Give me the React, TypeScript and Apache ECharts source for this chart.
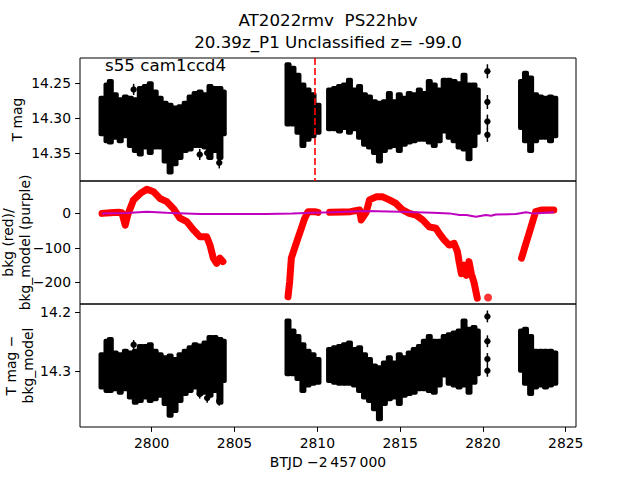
import React, { useEffect, useRef } from "react";
import * as echarts from "echarts";

// ---- Envelope samples of the dense photometry band (time, top/bottom of band) ----
const envT = [
  2797.0, 2797.3, 2797.5, 2797.8, 2798.1, 2798.41, 2798.71, 2799.01, 2799.31, 2799.61, 2799.91, 2800.21, 2800.51,
  2800.81, 2801.11, 2801.41, 2801.71, 2802.02, 2802.32, 2802.62, 2802.92, 2803.22, 2803.52, 2803.82, 2804.12, 2804.32,
  2808.23, 2808.53, 2808.83, 2809.13, 2809.44, 2809.74, 2810.04,
  2810.74, 2811.04, 2811.34, 2811.64, 2811.94, 2812.24, 2812.55, 2812.85, 2813.15, 2813.45, 2813.75, 2814.05, 2814.35,
  2814.65, 2814.95, 2815.25, 2815.55, 2815.85, 2816.16, 2816.46, 2816.76, 2817.06, 2817.36, 2817.66, 2817.96, 2818.26,
  2818.56, 2818.86, 2819.16, 2819.46, 2819.66,
  2822.33, 2822.57, 2822.88, 2823.18, 2823.48, 2823.78, 2824.08, 2824.34,
];
const tmagTop = [
  14.271, 14.252, 14.247, 14.266, 14.273, 14.269, 14.271, 14.273, 14.257, 14.254, 14.25, 14.262, 14.271,
  14.278, 14.281, 14.285, 14.283, 14.278, 14.269, 14.264, 14.262, 14.266, 14.254, 14.257, 14.257, 14.262,
  14.223, 14.228, 14.238, 14.252, 14.259, 14.266, 14.281,
  14.259, 14.257, 14.254, 14.252, 14.245, 14.259, 14.254, 14.266, 14.269, 14.276, 14.278, 14.276, 14.264,
  14.276, 14.266, 14.271, 14.264, 14.266, 14.259, 14.264, 14.247, 14.252, 14.259, 14.245, 14.245, 14.247,
  14.25, 14.238, 14.252, 14.252, 14.259,
  14.247, 14.235, 14.242, 14.266, 14.269, 14.271, 14.269, 14.271,
];
const tmagBot = [
  14.323, 14.333, 14.335, 14.328, 14.333, 14.326, 14.34, 14.347, 14.352, 14.342, 14.35, 14.342, 14.342,
  14.362, 14.378, 14.366, 14.357, 14.347, 14.345, 14.34, 14.34, 14.342, 14.357, 14.347, 14.357, 14.323,
  14.309, 14.309, 14.321, 14.34, 14.331, 14.326, 14.321,
  14.316, 14.316, 14.319, 14.314, 14.321, 14.316, 14.328, 14.338, 14.342, 14.35, 14.362, 14.347, 14.342,
  14.34, 14.347, 14.338, 14.335, 14.333, 14.331, 14.331, 14.335, 14.34, 14.333, 14.319, 14.328, 14.333,
  14.342, 14.345, 14.359, 14.34, 14.321,
  14.314, 14.333, 14.347, 14.333, 14.328, 14.328, 14.333, 14.326,
];
const diffTop = [
  14.271, 14.248, 14.245, 14.268, 14.271, 14.265, 14.268, 14.265, 14.257, 14.257, 14.254, 14.265, 14.271,
  14.276, 14.273, 14.279, 14.271, 14.265, 14.259, 14.254, 14.256, 14.251, 14.242, 14.242, 14.245, 14.248,
  14.214, 14.231, 14.24, 14.254, 14.265, 14.271, 14.279,
  14.262, 14.259, 14.257, 14.254, 14.251, 14.262, 14.259, 14.271, 14.279, 14.29, 14.293, 14.285, 14.276,
  14.285, 14.271, 14.276, 14.268, 14.262, 14.257, 14.248, 14.24, 14.248, 14.248, 14.24, 14.237, 14.234,
  14.231, 14.214, 14.228, 14.225, 14.231,
  14.231, 14.228, 14.24, 14.265, 14.265, 14.265, 14.265, 14.268,
];
const diffBot = [
  14.327, 14.333, 14.333, 14.33, 14.336, 14.33, 14.344, 14.353, 14.35, 14.344, 14.35, 14.347, 14.341,
  14.355, 14.375, 14.367, 14.35, 14.338, 14.333, 14.327, 14.338, 14.336, 14.341, 14.333, 14.353, 14.316,
  14.305, 14.305, 14.313, 14.333, 14.324, 14.321, 14.319,
  14.316, 14.319, 14.321, 14.321, 14.321, 14.324, 14.333, 14.344, 14.35, 14.364, 14.381, 14.355, 14.347,
  14.344, 14.355, 14.341, 14.338, 14.336, 14.33, 14.33, 14.333, 14.336, 14.324, 14.307, 14.321, 14.324,
  14.327, 14.324, 14.336, 14.319, 14.305,
  14.299, 14.321, 14.338, 14.327, 14.324, 14.327, 14.324, 14.321,
];

// ---- Individual points with error bars ----
const ptT = [2798.91, 2802.9, 2803.35, 2804.08, 2820.27, 2820.27, 2820.27, 2820.27];
const ptTmag = [14.259, 14.352, 14.35, 14.364, 14.233, 14.277, 14.305, 14.324];
const ptDiff = [14.255, 14.338, 14.345, 14.35, 14.207, 14.249, 14.279, 14.299];
const ptErr = [0.008, 0.008, 0.008, 0.008, 0.01, 0.01, 0.01, 0.01];

// ---- Background (red), null = gap ----
const bkgT = [
  2797.0, 2797.5, 2798.0, 2798.2, 2798.4, 2798.55, 2798.7, 2798.9, 2799.31, 2799.71, 2800.11, 2800.51, 2800.91,
  2801.31, 2801.71, 2802.12, 2802.52, 2802.92, 2803.32, 2803.52, 2803.72, 2803.92, 2804.12, 2804.3, 2806.0,
  2808.23, 2808.33, 2808.43, 2808.63, 2808.83, 2809.04, 2809.24, 2809.44, 2809.84, 2810.04, 2810.4,
  2810.74, 2811.5, 2812.0, 2812.55, 2812.65, 2812.95, 2813.15, 2813.55, 2813.95, 2814.35, 2814.75, 2815.15,
  2815.55, 2815.96, 2816.36, 2816.76, 2817.16, 2817.36, 2817.66, 2817.96, 2818.26, 2818.46, 2818.56, 2818.7,
  2818.86, 2819.0, 2819.16, 2819.3, 2819.46, 2819.66, 2821.0,
  2822.33, 2822.57, 2822.88, 2823.18, 2823.58, 2824.28,
];
const bkgV = [
  0, 2, 3, 2, -34, -5, 14, 39, 58, 70, 63, 43, 34,
  14, -14, -24, -48, -68, -68, -92, -130, -145, -130, -140, null,
  -242, -198, -130, -101, -72, -43, -14, 5, 5, 3, null,
  3, 4, 5, 10, -19, 3, 39, 48, 48, 39, 29, 10,
  0, -5, -19, -39, -43, -58, -77, -92, -87, -111, -140, -175,
  -150, -180, -140, -175, -200, -246, null,
  -130, -92, -43, 5, 10, 10,
];
const bkgIsoT = [2820.31];
const bkgIsoV = [-244];

// ---- Background model (purple) ----
const modelT = [
  2797.0, 2798.5, 2799.7, 2800.9, 2802.9, 2804.9, 2806.9, 2808.5, 2809.7, 2810.9, 2812.96, 2814.97, 2816.97,
  2817.98, 2818.58, 2819.0, 2819.58, 2820.18, 2820.5, 2820.78, 2822.0, 2822.6, 2823.0, 2824.3,
];
const modelV = [0, 1, 5, 2, -2, -2, -2, 0, 2, 3, 7, 5, 2, 0, -5, -5, -10, -5, -7, -3, -2, 3, 0, 3];

const xTicks = [2800, 2805, 2810, 2815, 2820, 2825];
const y1Ticks = [14.25, 14.3, 14.35];
const y2Ticks = [-200, -100, 0];
const y3Ticks = [14.2, 14.3];
const eventT = 2809.84;

const FONT = "DejaVu Sans";
const minus = (v: number) => (v < 0 ? "\u2212" + Math.abs(v) : String(v));

export default function App() {
  const ref = useRef<HTMLDivElement>(null);
  useEffect(() => {
    document.body.style.margin = "0";
    const chart = echarts.init(ref.current!, null, { renderer: "svg" });

    const envRender = (_p: any, api: any) => {
      const t = api.value(0);
      const a = api.coord([t, api.value(1)]);
      const b = api.coord([t, api.value(2)]);
      const y0 = Math.min(a[1], b[1]) - 2;
      const h = Math.abs(b[1] - a[1]) + 4;
      return { type: "rect", shape: { x: a[0] - 3.5, y: y0, width: 7, height: h, r: 2 }, style: { fill: "#000" } };
    };
    const ptRender = (_p: any, api: any) => {
      const t = api.value(0);
      const v = api.value(1);
      const e = api.value(2);
      const c = api.coord([t, v]);
      const a = api.coord([t, v - e]);
      const b = api.coord([t, v + e]);
      return {
        type: "group",
        children: [
          { type: "line", shape: { x1: c[0], y1: a[1], x2: c[0], y2: b[1] }, style: { stroke: "#000", lineWidth: 1.5 } },
          { type: "circle", shape: { cx: c[0], cy: c[1], r: 3.2 }, style: { fill: "#000" } },
        ],
      };
    };

    const axisText = { color: "#000", fontFamily: FONT, fontSize: 13.9 };
    const mkX = (idx: number, showLabel: boolean) => ({
      type: "value",
      gridIndex: idx,
      min: 2795.67,
      max: 2825.62,
      axisLine: { show: false },
      splitLine: { show: false },
      axisTick: { show: showLabel, customValues: xTicks, length: 4.9, lineStyle: { color: "#000", width: 1 } },
      axisLabel: { show: showLabel, customValues: xTicks, margin: 9, formatter: (v: number) => String(v), ...axisText },
      name: showLabel ? "BTJD \u22122\u2009457\u2009000" : "",
      nameLocation: "middle",
      nameGap: 28,
      nameTextStyle: { ...axisText },
    });
    const mkY = (idx: number, opts: any) => ({
      type: "value",
      gridIndex: idx,
      axisLine: { show: false },
      splitLine: { show: false },
      ...opts,
      axisTick: { show: true, customValues: opts.ticks, length: 4.9, lineStyle: { color: "#000", width: 1 } },
      axisLabel: { customValues: opts.ticks, margin: 9, formatter: opts.fmt, ...axisText },
    });
    const yName = (text: string, x: number, y: number) => ({
      type: "text", x, y, rotation: Math.PI / 2,
      style: { text, textAlign: "center", textVerticalAlign: "middle", font: `13.9px '${FONT}'`, lineHeight: 17, fill: "#000" },
    });

    const envData1 = envT.map((t, i) => [t, tmagTop[i], tmagBot[i]]);
    const envData3 = envT.map((t, i) => [t, diffTop[i], diffBot[i]]);
    const ptData1 = ptT.map((t, i) => [t, ptTmag[i], ptErr[i]]);
    const ptData3 = ptT.map((t, i) => [t, ptDiff[i], ptErr[i]]);
    const bkgData = bkgT.map((t, i) => [t, bkgV[i] === null ? "-" : bkgV[i]]);

    const gridBase = { left: 80, width: 496, height: 123, show: true, borderColor: "#000", borderWidth: 1, containLabel: false, outerBoundsMode: "none" };

    chart.setOption({
      animation: false,
      grid: [
        { ...gridBase, top: 58 },
        { ...gridBase, top: 181 },
        { ...gridBase, top: 304 },
      ],
      xAxis: [mkX(0, false), mkX(1, false), mkX(2, true)],
      yAxis: [
        mkY(0, { inverse: true, min: 14.214, max: 14.39, ticks: y1Ticks, fmt: (v: number) => v.toFixed(2) }),
        mkY(1, { min: -263, max: 94, ticks: y2Ticks, fmt: minus }),
        mkY(2, { inverse: true, min: 14.186, max: 14.394, ticks: y3Ticks, fmt: (v: number) => v.toFixed(1) }),
      ],
      graphic: [
        { type: "text", x: 328, y: 20, style: { text: "AT2022rmv  PS22hbv", textAlign: "center", textVerticalAlign: "middle", font: `16.7px '${FONT}'`, fill: "#000" } },
        { type: "text", x: 328, y: 42, style: { text: "20.39z_P1 Unclassified z= -99.0", textAlign: "center", textVerticalAlign: "middle", font: `16.7px '${FONT}'`, fill: "#000" } },
        { type: "text", x: 105, y: 65, z: 100, style: { text: "s55 cam1ccd4", textAlign: "left", textVerticalAlign: "middle", font: `16.7px '${FONT}'`, fill: "#000" } },
        yName("T mag", 17, 119.5),
        yName("bkg (red)/\nbkg_model (purple)", 16, 242.5),
        yName("T mag \u2212\nbkg_model", 19, 365.5),
      ],
      series: [
        {
          type: "custom", xAxisIndex: 0, yAxisIndex: 0, data: envData1, renderItem: envRender,
          encode: { x: 0, y: [1, 2] }, silent: true,
          markLine: {
            silent: true, symbol: "none", label: { show: false },
            lineStyle: { color: "#ff0000", width: 1.6, type: [7, 3] },
            data: [{ xAxis: eventT }],
          },
        },
        { type: "custom", xAxisIndex: 0, yAxisIndex: 0, data: ptData1, renderItem: ptRender, encode: { x: 0, y: 1 }, silent: true },
        {
          type: "line", xAxisIndex: 1, yAxisIndex: 1, data: bkgData, showSymbol: false, connectNulls: false,
          lineStyle: { color: "#ff0000", width: 7, cap: "round", join: "round" }, silent: true,
        },
        {
          type: "scatter", xAxisIndex: 1, yAxisIndex: 1, data: bkgIsoT.map((t, i) => [t, bkgIsoV[i]]),
          symbolSize: 8, itemStyle: { color: "#ff0000" }, silent: true,
        },
        {
          type: "line", xAxisIndex: 1, yAxisIndex: 1, data: modelT.map((t, i) => [t, modelV[i]]), showSymbol: false,
          lineStyle: { color: "#bf00bf", width: 2 }, silent: true, z: 3,
        },
        { type: "custom", xAxisIndex: 2, yAxisIndex: 2, data: envData3, renderItem: envRender, encode: { x: 0, y: [1, 2] }, silent: true },
        { type: "custom", xAxisIndex: 2, yAxisIndex: 2, data: ptData3, renderItem: ptRender, encode: { x: 0, y: 1 }, silent: true },
      ],
    });
    return () => chart.dispose();
  }, []);
  return <div ref={ref} style={{ width: 640, height: 480, position: "absolute", left: 0, top: 0 }} />;
}
